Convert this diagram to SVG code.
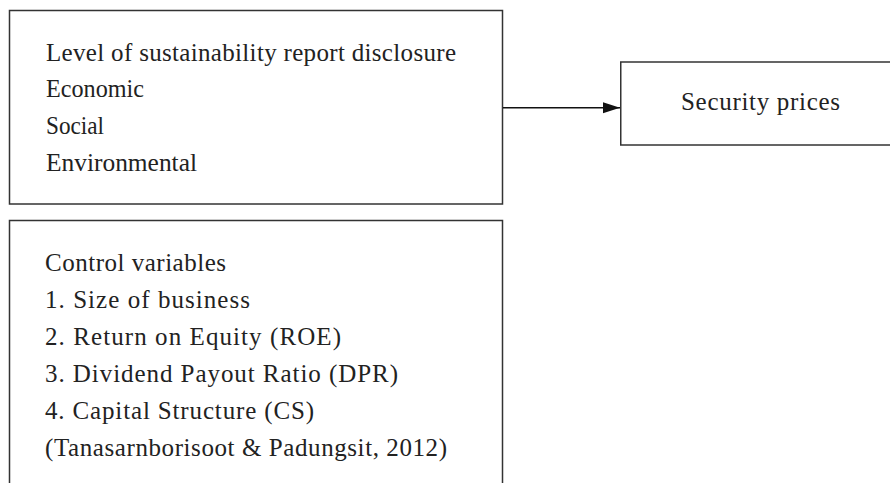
<svg xmlns="http://www.w3.org/2000/svg" width="890" height="483" viewBox="0 0 890 483">
<style>
.box{fill:#fff;stroke:#333;stroke-width:1.5}
.t{font-family:"Liberation Serif","Times New Roman",serif;font-size:25px;fill:#222}
.conn{stroke:#111;stroke-width:1.5;fill:none}
</style>
<defs>
<marker id="arr" markerUnits="userSpaceOnUse" markerWidth="18" markerHeight="12" refX="17" refY="5.5" orient="auto">
<path d="M0,0 L17,5.5 L0,11 Z" fill="#111"/>
</marker>
</defs>
<rect width="890" height="483" fill="#fff"/>
<g id="disclosure">
<rect class="box" x="9.5" y="10.5" width="493" height="193.5"/>
<text class="t" x="46" y="60.5" textLength="410" lengthAdjust="spacing">Level of sustainability report disclosure</text>
<text class="t" x="46" y="97" textLength="98" lengthAdjust="spacingAndGlyphs">Economic</text>
<text class="t" x="46" y="133.5" textLength="58" lengthAdjust="spacingAndGlyphs">Social</text>
<text class="t" x="46" y="170.5" textLength="151" lengthAdjust="spacingAndGlyphs">Environmental</text>
</g>
<g id="control">
<rect class="box" x="9.5" y="220.5" width="493" height="280"/>
<text class="t" x="45" y="270.5" textLength="181" lengthAdjust="spacing">Control variables</text>
<text class="t" x="45" y="307.5" textLength="205" lengthAdjust="spacing">1. Size of business</text>
<text class="t" x="45" y="344.5" textLength="296" lengthAdjust="spacing">2. Return on Equity (ROE)</text>
<text class="t" x="45" y="381.5" textLength="353" lengthAdjust="spacing">3. Dividend Payout Ratio (DPR)</text>
<text class="t" x="45" y="418.5" textLength="269" lengthAdjust="spacing">4. Capital Structure (CS)</text>
<text class="t" x="45" y="455.5" textLength="402" lengthAdjust="spacing">(Tanasarnborisoot &amp; Padungsit, 2012)</text>
</g>
<g id="prices">
<rect class="box" x="620.75" y="62" width="280" height="83"/>
<text class="t" x="681" y="109.5" textLength="159" lengthAdjust="spacing">Security prices</text>
</g>
<g id="connectors">
<line class="conn" x1="503" y1="107.7" x2="620" y2="107.7" marker-end="url(#arr)"/>
</g>
</svg>
